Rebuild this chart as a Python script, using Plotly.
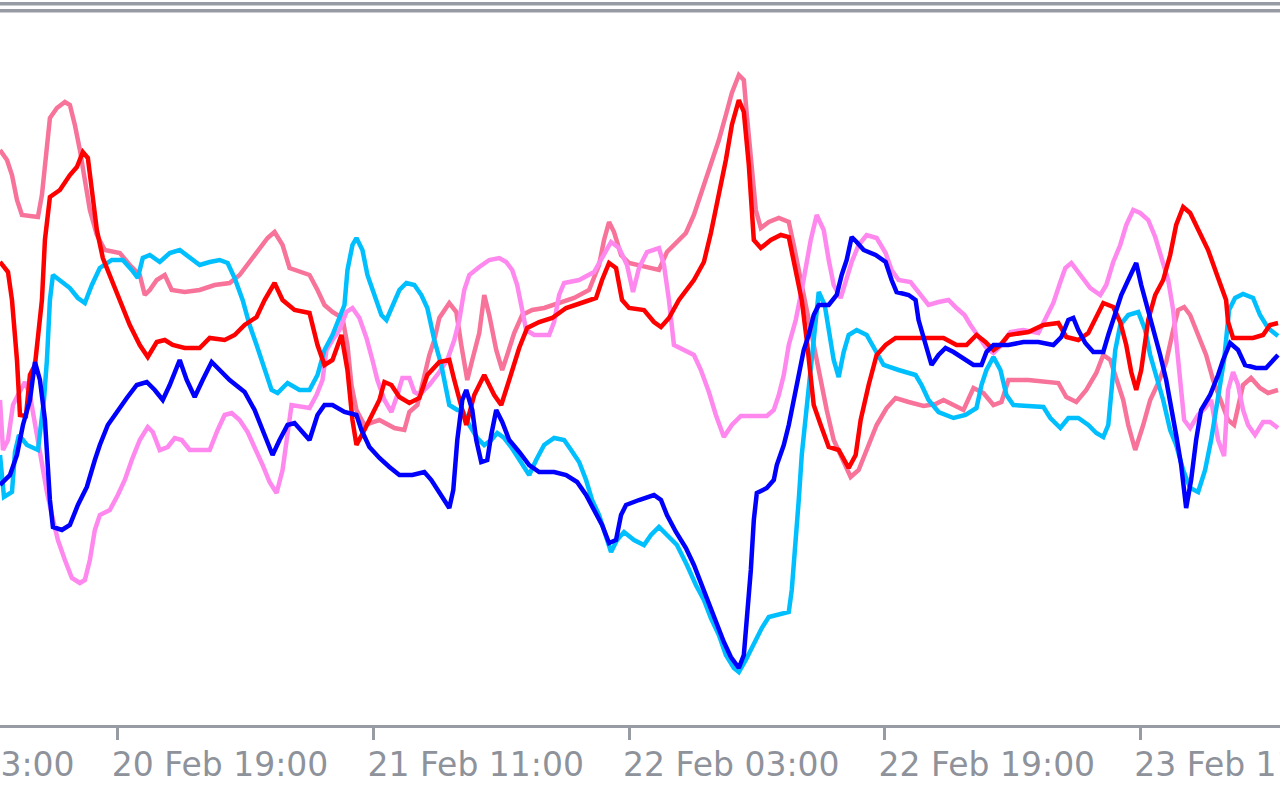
import plotly.graph_objects as go

# x: 15-minute bar index from the left edge of the chart; y: indicator value
red_x = [0, 2, 3, 4.25, 5, 6.5, 7.5, 8.75, 10.5, 11.25, 12.5, 15, 17.5, 19.25, 20.75, 22, 23, 24.25, 25.75, 27.5,
         30, 32.5, 35, 37, 39.25, 41.25, 43.25, 46.25, 50, 52.5, 56.25, 58.75, 61.25, 64.25, 66.25, 68.75, 70.75, 73.75, 77.5, 79.5,
         81.25, 83.25, 85.5, 87, 88.25, 89.25, 91.25, 93, 95, 96.25, 98, 100, 102.5, 105, 107, 110, 112.5, 113.75, 115, 116.75,
         118.75, 121.25, 123.75, 125.5, 127.5, 130, 132, 135, 138.25, 141.75, 146.25, 149.25, 150.75, 152.5, 154.25, 155.75, 157.5, 161.25, 163.75, 165.5,
         167.5, 170, 173.75, 176.25, 178, 180, 181.75, 183.25, 185, 186.25, 187.5, 188.75, 190.5, 193, 195.5, 197.5, 198.75, 200.75, 202, 203.75,
         205.5, 207.5, 210, 212.5, 214.25, 215.5, 217.5, 219.5, 221.75, 224.25, 233.75, 236.25, 239.5, 242, 244.5, 246.75, 248.75, 250.5, 252.5, 257.5,
         261.25, 265, 267, 270, 272.5, 274.5, 276.25, 278.75, 280.5, 282, 283.25, 284.5, 285.75, 287.5, 289.25, 291.25, 293, 294.5, 296.25, 298,
         300, 302.5, 305, 307, 307.5, 308.75, 313.75, 316.25, 318, 320]
red_y = [138, 128, 100, 40, -15, -16, 25, 35, 100, 160, 203, 210, 225, 233, 248, 242, 210, 170, 142, 125,
         100, 75, 55, 43, 58, 60, 55, 52, 52, 62, 60, 65, 75, 83, 100, 117, 100, 90, 87, 55,
         35, 40, 65, 30, -20, -45, -30, -15, 0, 18, 15, 3, -3, 2, 25, 38, 40, 20, 0, -25,
         5, 25, 5, -5, 20, 52, 72, 78, 82, 92, 98, 102, 120, 137, 132, 100, 92, 90, 78, 73,
         82, 100, 120, 138, 167, 205, 240, 275, 300, 288, 235, 160, 152, 160, 165, 163, 140, 100, 60, -5,
         -25, -47, -50, -68, -55, -20, 15, 45, 55, 62, 62, 62, 55, 55, 65, 58, 50, 55, 65, 68,
         75, 77, 63, 60, 67, 83, 97, 93, 78, 55, 28, 10, 30, 80, 105, 120, 145, 175, 193, 187,
         170, 150, 122, 100, 78, 62, 62, 65, 75, 77]

salmon_x = [0, 1.75, 3, 4.25, 5.5, 9.5, 10.5, 11.75, 12.5, 14.25, 16.25, 17.5, 18.75, 20, 21.25, 22.5, 24.25, 26.25, 30, 32.5,
            35, 36.25, 37.5, 39.25, 41.25, 43, 46.25, 50, 53.75, 57.5, 60, 62.5, 65, 67, 68.75, 70.75, 72.5, 75, 77.5, 79.5,
            81.25, 83.25, 85.75, 87, 88, 89.25, 91.25, 95, 98.75, 101.25, 102.5, 104.5, 105.75, 107.5, 108.75, 110, 112.5, 114.25, 115.5, 117,
            118.25, 120, 121.25, 122.5, 124.25, 125.75, 127, 128.75, 130.75, 133.25, 136.25, 140, 143.75, 147.5, 150, 151.25, 152.5, 153.75, 155.5, 157.5,
            160, 165, 167, 169.5, 171.75, 173.75, 176.25, 178.25, 180, 181.75, 183.25, 185, 186.25, 187, 188, 189.25, 190.5, 192.5, 195, 197.5,
            198.75, 200, 201.25, 203, 205, 207, 208.75, 211.25, 213, 215, 217, 219.5, 222, 224.25, 227.5, 231.25, 234.25, 236.25, 238.75, 241.25,
            243.75, 246.25, 248.75, 250.75, 252.5, 257.5, 265, 267, 269.5, 272, 274.5, 276.25, 278, 279.5, 281.25, 282.5, 284.25, 286.25, 288, 290,
            292, 293.75, 295, 296.5, 298, 300, 302, 303.75, 305.5, 307.5, 309, 310, 311.25, 313.25, 315.5, 317.5, 320]
salmon_y = [250, 240, 225, 200, 185, 183, 205, 250, 282, 292, 298, 295, 275, 250, 220, 190, 165, 150, 147, 135,
            125, 105, 110, 120, 125, 110, 108, 110, 115, 117, 125, 138, 150, 162, 168, 155, 132, 128, 125, 110,
            95, 88, 82, 55, 15, -10, -25, -20, -28, -30, -12, -5, 15, 45, 60, 82, 97, 88, 55, 20,
            40, 67, 105, 85, 50, 30, 45, 67, 85, 90, 92, 97, 102, 110, 135, 160, 178, 168, 145, 137,
            135, 130, 148, 158, 167, 185, 215, 240, 260, 285, 307, 325, 320, 285, 240, 190, 172, 178, 182, 178,
            155, 130, 100, 65, 30, -10, -40, -62, -77, -70, -50, -25, -8, 2, -2, -6, -4, 0, -5, -10,
            12, 7, -5, -2, 20, 20, 17, 3, -2, 10, 27, 45, 40, 20, 0, -25, -50, -25, 0, 17,
            38, 70, 90, 93, 85, 65, 45, 20, 0, -20, -25, -5, 15, 22, 12, 7, 10]

violet_x = [0, 0.75, 2, 3.25, 4.5, 6.25, 7.5, 8.75, 10, 10.75, 11.75, 13, 14.5, 16.25, 18, 20, 21.25, 22.5, 23.75, 25,
            27.5, 29.5, 31.25, 33, 35, 37, 38.25, 40, 42, 43.75, 45.5, 47.5, 52.5, 54.5, 56.25, 58, 60, 62, 63.75, 65.75,
            67.5, 69.25, 70.75, 71.75, 73, 77.5, 79.25, 80.75, 81.75, 83.25, 85, 86.75, 88.25, 90, 91.75, 93.25, 94.5, 96.25, 98, 99.5,
            100.75, 102.5, 103.75, 105, 107.5, 110, 112, 113.75, 115, 116.25, 117.5, 120, 122.5, 125, 126.75, 128.25, 129.5, 130.5, 131.75, 133.75,
            137.5, 138.75, 140, 141.25, 145, 148.75, 151.25, 153, 155, 157, 158.5, 160, 162, 165, 166.25, 167.5, 168.75, 171.25, 173.75, 175.5,
            177.5, 179.25, 181.25, 183.25, 185.5, 192, 193.75, 195, 196.25, 197.5, 199.25, 200.75, 202, 203, 204.5, 206.25, 207.5, 208.75, 210.5, 212,
            213.25, 215, 217, 219.5, 221.75, 223.25, 225, 228, 230, 232.5, 235, 237.5, 239.5, 241.5, 243, 245, 247, 248.75, 250.75, 253,
            256.25, 260, 262, 263.75, 265.5, 266.75, 268.25, 270.5, 273, 275.5, 277, 278.75, 280.5, 282, 283.75, 285.5, 287.5, 289.25, 290.75, 292.5,
            293.75, 294.5, 295.5, 296.5, 298, 300, 301.75, 303.25, 305, 306.5, 307.5, 308.75, 310, 311.25, 312.5, 314.25, 316.25, 318, 320]
violet_y = [0, -50, -40, -5, 5, 18, 5, -25, -55, -72, -92, -115, -140, -160, -178, -183, -180, -160, -130, -115,
            -110, -95, -80, -60, -40, -27, -32, -50, -47, -38, -40, -50, -50, -30, -15, -13, -20, -32, -47, -65,
            -82, -93, -70, -40, -5, -8, 5, 20, 50, 60, 70, 88, 92, 82, 62, 40, 20, 0, -12, 5,
            22, 22, 8, 5, 15, 28, 40, 60, 80, 110, 125, 133, 140, 142, 138, 130, 115, 95, 70, 65,
            65, 78, 105, 117, 120, 128, 145, 158, 152, 135, 108, 132, 148, 152, 135, 100, 55, 50, 45, 30,
            8, -15, -37, -25, -16, -16, -10, 5, 25, 55, 80, 110, 138, 160, 185, 170, 140, 115, 102, 120,
            138, 155, 165, 162, 147, 130, 120, 118, 108, 95, 98, 100, 92, 85, 75, 63, 52, 47, 55, 68,
            70, 67, 82, 97, 118, 132, 137, 125, 112, 105, 115, 138, 155, 175, 190, 187, 180, 163, 142, 120,
            90, 60, 20, -20, -28, -15, -8, 0, -40, -56, 10, 28, 15, -10, -25, -35, -22, -22, -28]

sky_x = [0, 1, 3, 3.75, 4.75, 6.75, 9.5, 11, 11.75, 12.5, 13.25, 15, 17.5, 19.5, 21.25, 23, 25, 28, 30.75, 33,
         34.5, 35.75, 37.5, 40, 42.5, 45, 47.5, 50, 52.5, 55, 57, 58.75, 60.75, 62.5, 64.25, 66.25, 68, 69.5, 72, 75,
         77.5, 79.5, 81.25, 83.25, 85, 86.25, 87, 88.25, 89.25, 90.75, 92, 93.75, 95.5, 96.75, 98.25, 100, 101.75, 103.75, 105.5, 107,
         108.75, 110.5, 111.75, 112.5, 114.5, 115.75, 117.5, 119.5, 121.25, 123, 124.5, 126.25, 128, 130, 132.5, 134.25, 136.25, 138.75, 141.25, 143,
         145, 146.75, 148.25, 150, 151.75, 153, 154.5, 156.25, 158.75, 161.25, 163, 165, 167, 169.5, 172, 174.25, 176.25, 178, 180, 181.75,
         183.75, 185, 186.75, 188.75, 190.75, 192.5, 195, 197.5, 198.25, 199.25, 200, 200.75, 202, 203, 204, 205, 206.5, 207.5, 208.75, 210,
         211.25, 212.5, 214.5, 217, 219.25, 221.25, 225, 229.25, 230.75, 232.5, 235, 238.75, 241.75, 244.5, 245.75, 247, 248.75, 250.5, 252, 253.75,
         261.25, 263, 265.5, 267.5, 270, 272.5, 274.5, 276.25, 277.5, 278.25, 279.25, 280.5, 282.5, 285, 286.75, 288, 289.5, 291.25, 293, 294.5,
         296.25, 298, 300, 301.75, 303.25, 305, 306.5, 307.75, 309.25, 311.25, 313.75, 315.5, 317.5, 320]
sky_y = [-55, -97, -92, -52, -35, -45, -50, 0, 40, 100, 125, 120, 112, 102, 97, 115, 132, 140, 140, 130,
         122, 142, 145, 138, 147, 150, 142, 135, 138, 140, 137, 122, 100, 75, 55, 30, 10, 7, 17, 10,
         10, 25, 50, 65, 82, 95, 130, 155, 162, 150, 125, 105, 85, 80, 95, 110, 117, 115, 105, 92,
         60, 35, 10, -5, -10, -10, -25, -38, -45, -40, -33, -38, -47, -60, -75, -60, -45, -38, -40, -50,
         -62, -80, -100, -115, -135, -152, -140, -132, -140, -145, -135, -127, -135, -145, -165, -185, -200, -218, -235, -255,
         -268, -272, -260, -243, -228, -217, -215, -212, -190, -145, -100, -55, -10, 30, 70, 108, 95, 70, 40, 23,
         48, 65, 70, 65, 50, 35, 30, 25, 15, 0, -12, -18, -15, -8, 15, 30, 43, 30, 5, -5,
         -7, -18, -28, -18, -18, -25, -33, -37, -25, 10, 50, 75, 85, 88, 70, 45, 25, 0, -30, -45,
         -70, -88, -92, -70, -40, 0, 40, 90, 102, 106, 102, 85, 72, 64]

blue_x = [0, 2.5, 4.25, 5.75, 7.5, 8.75, 10, 11.25, 12.5, 13.25, 15.5, 17.5, 19.5, 21.75, 23.75, 25, 27, 29.5, 31.75, 34.25,
          36.75, 38.75, 40.75, 42.5, 45, 46.75, 48.75, 50.75, 53, 55, 57.5, 61.25, 63.75, 66.25, 68.25, 70, 72, 73.75, 75.75, 77.5,
          79.5, 81.25, 83.25, 86.25, 89.25, 90.5, 92.5, 95, 97.5, 100, 103.25, 106.25, 108, 110, 111.75, 112.5, 113.5, 114.5, 115.75, 116.75,
          118.25, 119.25, 120.5, 122, 123, 124.25, 125.75, 127.5, 130, 132.5, 135, 138.75, 141.75, 144.5, 146.75, 148.75, 150.75, 152.5, 154.25, 155.5,
          156.75, 160, 163.75, 165.5, 167, 169.25, 171.75, 173.75, 175.75, 177.5, 179.5, 181.25, 183, 185, 186.25, 187, 188, 188.75, 189.5, 192,
          193.75, 194.5, 196.25, 197.5, 198.75, 200, 201.25, 202.5, 203.75, 205, 207.5, 209.5, 210.75, 212, 213.25, 214.5, 216.25, 219.25, 221.75, 223.25,
          224.5, 227.5, 229.25, 230, 231.75, 233.25, 235, 236.75, 238.75, 241.25, 243.75, 245.75, 247, 248.75, 252.5, 256.25, 260, 263.75, 265.75, 267.5,
          268.75, 270, 271.75, 273.75, 276.25, 277.5, 279.25, 280.75, 282.5, 284.5, 285.75, 287.5, 288.75, 290.5, 292, 293.25, 294.5, 295.75, 297, 298.25,
          299.5, 300.75, 303, 305, 306.25, 308, 310, 311.75, 314.5, 317, 318.75, 320]
blue_y = [-85, -75, -55, -25, 0, 38, 20, -20, -100, -127, -130, -125, -105, -87, -60, -45, -25, -10, 2, 15,
          18, 10, 0, 15, 40, 20, 3, 20, 38, 30, 20, 8, -10, -35, -55, -40, -25, -23, -33, -40,
          -15, -5, -5, -12, -15, -30, -47, -58, -67, -75, -75, -72, -80, -92, -102, -108, -90, -40, 0, 10,
          -10, -40, -62, -60, -35, -10, -22, -40, -52, -65, -72, -72, -75, -82, -95, -110, -125, -143, -140, -115,
          -105, -100, -95, -100, -115, -132, -148, -165, -185, -205, -225, -242, -257, -268, -255, -220, -170, -120, -93, -88,
          -80, -65, -45, -25, 0, 25, 50, 65, 85, 95, 95, 105, 125, 140, 163, 158, 150, 145, 138, 120,
          108, 105, 100, 80, 55, 35, 45, 52, 48, 42, 35, 35, 48, 55, 55, 58, 58, 55, 63, 80,
          82, 70, 57, 48, 48, 65, 88, 105, 120, 137, 115, 90, 70, 45, 20, -5, -35, -65, -108, -80,
          -40, -10, 5, 25, 40, 57, 50, 35, 32, 32, 40, 45]

x_range = [0, 320.5]
tick_vals = [29.5, 93.5, 157.5, 221.5, 285.5]
tick_text = ["20 Feb 19:00", "21 Feb 11:00", "22 Feb 03:00", "22 Feb 19:00", "23 Feb 11:00"]
first_tick_val = -34.5
first_tick_text = "20 Feb 03:00"

GRAY = "#979BA3"
LABEL = "#8E929B"
FONT = dict(family="DejaVu Sans", size=33, color=LABEL)

series = [
    (salmon_x, salmon_y, "#F7739A"),
    (violet_x, violet_y, "#FF88EE"),
    (sky_x, sky_y, "#00BFFF"),
    (red_x, red_y, "#FF0000"),
    (blue_x, blue_y, "#0000FF"),
]

fig = go.Figure()
for xs, ys, col in series:
    fig.add_trace(go.Scatter(x=xs, y=ys, mode="lines",
                             line=dict(color=col, width=4.5), hoverinfo="skip"))

first_paper_x = (first_tick_val - x_range[0]) / (x_range[1] - x_range[0])

fig.update_layout(
    width=1280, height=800,
    margin=dict(l=0, r=0, t=0, b=75, autoexpand=False),
    paper_bgcolor="white", plot_bgcolor="white",
    showlegend=False,
    xaxis=dict(range=x_range, showgrid=False, zeroline=False, automargin=False,
               showline=True, linecolor=GRAY, linewidth=3,
               ticks="outside", ticklen=12, tickwidth=3, tickcolor=GRAY,
               tickvals=tick_vals, ticktext=tick_text,
               ticklabelposition="outside right", ticklabeloverflow="allow",
               ticklabelshift=-9, ticklabelstandoff=8,
               tickfont=FONT),
    yaxis=dict(range=[-325, 400], visible=False, showgrid=False, zeroline=False),
    shapes=[
        dict(type="rect", xref="paper", yref="paper", x0=0, x1=1,
             y0=1 - 5.5 / 725, y1=1 - 2 / 725, fillcolor=GRAY, line=dict(width=0)),
        dict(type="rect", xref="paper", yref="paper", x0=0, x1=1,
             y0=1 - 12.5 / 725, y1=1 - 9 / 725, fillcolor=GRAY, line=dict(width=0)),
    ],
    annotations=[
        dict(x=first_paper_x, xref="paper", y=-18 / 725, yref="paper", text=first_tick_text,
             showarrow=False, xanchor="left", yanchor="top", xshift=-6, font=FONT),
    ],
)

fig.write_html("out.html",
               config={"displayModeBar": False},
               post_script="document.body.style.margin='0';document.body.style.overflow='hidden';")
